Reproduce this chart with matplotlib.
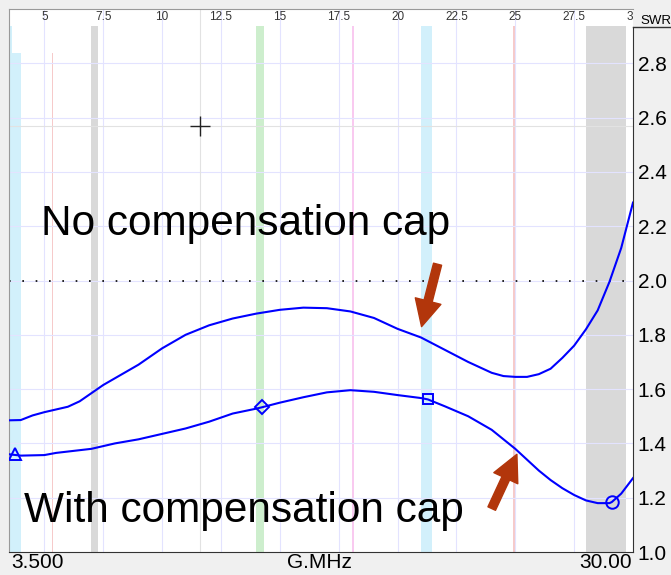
import matplotlib.pyplot as plt

plt.rcParams['font.family'] = ['Liberation Sans', 'DejaVu Sans']

# SWR sweep 3.5 - 30 MHz, antenna without the compensation capacitor
freq_no_cap = [3.5, 4.0, 4.5, 5.0, 5.5, 6.0, 6.5, 7.0, 7.5, 8.0, 9.0, 10.0, 11.0, 12.0,
               13.0, 14.0, 15.0, 16.0, 17.0, 18.0, 19.0, 20.0, 21.0, 22.0, 23.0, 24.0,
               24.5, 25.0, 25.5, 26.0, 26.5, 27.0, 27.5, 28.0, 28.5, 29.0, 29.5, 30.0]
swr_no_cap = [1.485, 1.486, 1.503, 1.515, 1.525, 1.535, 1.555, 1.585, 1.615, 1.64, 1.69,
              1.75, 1.80, 1.835, 1.86, 1.878, 1.892, 1.90, 1.898, 1.886, 1.862, 1.822,
              1.79, 1.745, 1.70, 1.66, 1.648, 1.645, 1.645, 1.655, 1.675, 1.715, 1.76,
              1.82, 1.89, 1.995, 2.12, 2.287]

# same antenna with the compensation capacitor fitted
freq_cap = [3.5, 4.0, 5.0, 5.5, 6.0, 7.0, 7.5, 8.0, 9.0, 10.0, 11.0, 12.0, 13.0, 14.0,
            14.24, 15.0, 16.0, 17.0, 18.0, 19.0, 20.0, 21.0, 21.29, 22.0, 23.0, 24.0,
            24.5, 25.0, 25.5, 26.0, 26.5, 27.0, 27.5, 28.0, 28.5, 29.0, 29.1, 29.5, 30.0]
swr_cap = [1.36, 1.355, 1.357, 1.365, 1.37, 1.38, 1.39, 1.40, 1.415, 1.435, 1.455, 1.48,
           1.51, 1.528, 1.533, 1.55, 1.57, 1.588, 1.596, 1.59, 1.578, 1.567, 1.562,
           1.537, 1.50, 1.45, 1.415, 1.38, 1.34, 1.30, 1.265, 1.235, 1.21, 1.19, 1.18,
           1.18, 1.184, 1.215, 1.272]

# markers on the compensated trace
marker_freq = [3.75, 14.24, 21.29, 29.1]
marker_swr = [1.362, 1.533, 1.562, 1.184]
marker_shape = ['^', 'D', 's', 'o']
marker_size = [9, 7, 7, 9]

# amateur bands: start, stop, colour
bands = [(3.5, 4.0, '#d2f0fb'), (5.33, 5.38, '#f6caca'), (7.0, 7.3, '#d9d9d9'),
         (14.0, 14.35, '#cdeecd'), (18.07, 18.17, '#f9caf0'), (21.0, 21.45, '#d2f0fb'),
         (24.89, 24.99, '#f6caca'), (28.0, 29.7, '#d9d9d9')]

top_ticks = [5, 7.5, 10, 12.5, 15, 17.5, 20, 22.5, 25, 27.5, 30]
top_labels = ['5', '7.5', '10', '12.5', '15', '17.5', '20', '22.5', '25', '27.5', '30']
swr_ticks = [1.0, 1.2, 1.4, 1.6, 1.8, 2.0, 2.2, 2.4, 2.6, 2.8]
swr_labels = ['1.0', '1.2', '1.4', '1.6', '1.8', '2.0', '2.2', '2.4', '2.6', '2.8']

cursor_freq = 11.61
cursor_swr = 2.57

fig = plt.figure(figsize=(6.71, 5.75), dpi=100, facecolor='#f0f0f0')
ax = fig.add_axes([9 / 671, 1 - 552 / 575, 624 / 671, 543 / 575])
ax.set_facecolor('white')
ax.set_xlim(3.5, 30)
ax.set_ylim(1.0, 3.0)

band_top = 0.968
for start, stop, col in bands:
    ax.axvspan(start, stop, ymin=0, ymax=band_top, color=col, lw=0, zorder=0.5)
# blank patch in the top-left corner
ax.axvspan(3.63, 5.6, ymin=0.919, ymax=band_top, color='white', lw=0, zorder=0.6)

# grid
for x in top_ticks[:-1]:
    ax.axvline(x, color='#e3e3ff', lw=0.8, zorder=1)
for y in swr_ticks[1:]:
    ax.axhline(y, color='#e3e3ff', lw=0.8, zorder=1)

# cursor
ax.axvline(cursor_freq, color='#e2e2e2', lw=0.8, zorder=1.2)
ax.axhline(cursor_swr, color='#e2e2e2', lw=0.8, zorder=1.2)
ax.plot(cursor_freq, cursor_swr, marker='+', color='#222222', ms=15, mew=1.0, zorder=5)

# SWR 2:1 reference
ax.axhline(2.0, color='black', lw=1.2, ls=(0, (1, 7)), zorder=2)

ax.plot(freq_no_cap, swr_no_cap, color='#0000ff', lw=1.5, zorder=3)
ax.plot(freq_cap, swr_cap, color='#0000ff', lw=1.5, zorder=3)
for f, s, m, ms in zip(marker_freq, marker_swr, marker_shape, marker_size):
    ax.plot(f, s, marker=m, ms=ms, mfc='none', mec='#0000ff', mew=1.4, zorder=4)

# frequency labels along the top
for x, lab in zip(top_ticks, top_labels):
    ax.text(x, 0.985, lab, transform=ax.get_xaxis_transform(), ha='center', va='center',
            fontsize=8.5, color='#333333', clip_on=True)

ax.text(0.052, 0.584, 'No compensation cap', transform=ax.transAxes, fontsize=30.5,
        va='baseline', ha='left', color='black', zorder=6)
ax.text(0.0236, 0.055, 'With compensation cap', transform=ax.transAxes, fontsize=30.5,
        va='baseline', ha='left', color='black', zorder=6)

arrow = dict(arrowstyle='simple,head_length=0.95,head_width=0.95,tail_width=0.3',
             mutation_scale=20, color='#b2360b', shrinkA=0, shrinkB=0)
ax.annotate('', xy=(21.02, 1.83), xytext=(21.7, 2.06), arrowprops=arrow, zorder=6)
ax.annotate('', xy=(25.07, 1.36), xytext=(24.0, 1.16), arrowprops=arrow, zorder=6)

# axes: SWR scale on the right, no x tick labels
ax.set_xticks([])
ax.yaxis.tick_right()
ax.set_yticks(swr_ticks)
ax.set_yticklabels(swr_labels, fontsize=15)
ax.tick_params(axis='y', length=0, pad=3.5)
for side in ['left', 'top']:
    ax.spines[side].set_color('#9a9a9a')
for side in ['right', 'bottom']:
    ax.spines[side].set_color('#333333')
ax.spines['right'].set_bounds(1.0, 2.934)

fig.text(640 / 671, 1 - 21 / 575, 'SWR', fontsize=9.5, va='center', ha='left')
fig.add_artist(plt.Line2D([633 / 671, 1], [1 - 27 / 575, 1 - 27 / 575], color='#333333', lw=1))

fig.text(11 / 671, 1 - 563 / 575, '3.500', fontsize=15, va='center', ha='left')
fig.text(319 / 671, 1 - 563 / 575, 'G.MHz', fontsize=15, va='center', ha='center')
fig.text(632 / 671, 1 - 563 / 575, '30.00', fontsize=15, va='center', ha='right')

fig.savefig('out.png', dpi=100, facecolor=fig.get_facecolor())
